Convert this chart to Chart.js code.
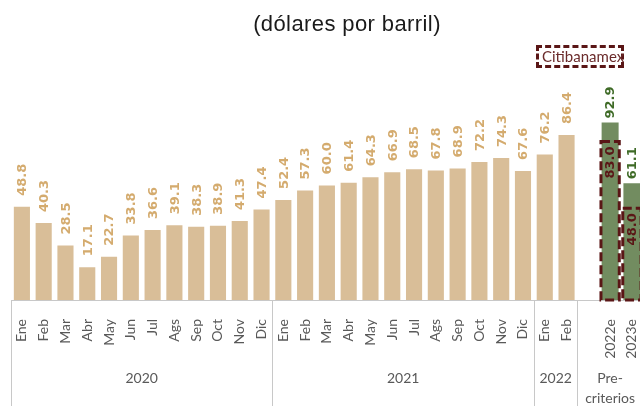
<!DOCTYPE html>
<html>
<head>
<meta charset="utf-8">
<script src="https://cdn.jsdelivr.net/npm/chart.js@4"></script>
<style>
html,body{margin:0;padding:0;background:#fff;overflow:hidden;width:640px;height:406px;}
#wrap{position:relative;width:640px;height:406px;overflow:hidden;}
#c{position:absolute;left:0;top:0;display:block;}
#title{position:absolute;left:0;width:694px;top:13px;line-height:22px;text-align:center;font-family:"Liberation Sans",Arial,sans-serif;font-size:22px;color:#1a1a1a;letter-spacing:0.4px;}
#legbox{position:absolute;left:536px;top:45px;width:88px;height:23px;box-sizing:border-box;border:3px dashed #5a1616;}
#legtxt{position:absolute;left:542px;top:46px;line-height:20px;font-family:Lato,sans-serif;font-size:15px;color:#6b2b2b;white-space:nowrap;}
</style>
</head>
<body>
<div id="wrap">
<canvas id="c" width="660" height="406"></canvas>
<div id="title">(dólares por barril)</div>
<div id="legbox"></div>
<div id="legtxt">Citibanamex</div>
</div>
<script>
// ---- data ----
const months = ['Ene','Feb','Mar','Abr','May','Jun','Jul','Ags','Sep','Oct','Nov','Dic'];
const months2022 = ['Ene','Feb'];
const estimateLabels = ['2022e','2023e'];
const values2020 = [48.8,40.3,28.5,17.1,22.7,33.8,36.6,39.1,38.3,38.9,41.3,47.4];
const values2021 = [52.4,57.3,60.0,61.4,64.3,66.9,68.5,67.8,68.9,72.2,74.3,67.6];
const values2022 = [76.2,86.4];
const preCriterios = [92.9,61.1];
const citibanamex = [83.0,48.0];
const groupNames = ['2020','2021','2022',['Pre-','criterios']];
const groupSizes = [12,12,2,3];

// ---- build table ----
const labels = [...months, ...months, ...months2022, '', ...estimateLabels];
const nObs = values2020.length + values2021.length + values2022.length;
const observed = [...values2020, ...values2021, ...values2022, null, null, null];
const padNulls = new Array(nObs + 1).fill(null);
const estimates = [...padNulls, ...preCriterios];
const citi = [...padNulls, ...citibanamex];

const labelStyles = [
  {color:'#d4ab6e', font:'bold 13px "DejaVu Sans"', offset:11, inside:false},
  {color:'#3f6b27', font:'bold 13px "DejaVu Sans"', offset:4, inside:false},
  {color:'#5a1616', font:'bold 13px "DejaVu Sans"', offset:5, inside:true}
];

const overlay = {
  id:'overlay',
  afterDatasetsDraw(chart){
    const ctx = chart.ctx;
    // dashed outline bars
    const meta = chart.getDatasetMeta(2);
    ctx.save();
    ctx.strokeStyle = '#5a1616';
    ctx.lineWidth = 3;
    ctx.setLineDash([9,4]);
    meta.data.forEach((el,i)=>{
      if (chart.data.datasets[2].data[i] == null) return;
      const p = el.getProps(['x','y','base','width'], true);
      ctx.strokeRect(p.x - p.width/2, p.y, p.width, p.base - p.y);
    });
    ctx.restore();
    // value labels
    chart.data.datasets.forEach((ds, di)=>{
      const st = labelStyles[di];
      const m = chart.getDatasetMeta(di);
      m.data.forEach((el,i)=>{
        const v = ds.data[i];
        if (v == null) return;
        const p = el.getProps(['x','y'], true);
        ctx.save();
        ctx.font = st.font;
        ctx.fillStyle = st.color;
        ctx.textBaseline = 'middle';
        if (st.inside) {
          ctx.translate(p.x + 1, p.y + st.offset);
          ctx.rotate(-Math.PI/2);
          ctx.textAlign = 'right';
        } else {
          ctx.translate(p.x + 1, p.y - st.offset);
          ctx.rotate(-Math.PI/2);
          ctx.textAlign = 'left';
        }
        ctx.fillText(v.toFixed(1), 0, 0);
        ctx.restore();
      });
    });
  },
  afterDraw(chart){
    const ctx = chart.ctx;
    const xs = chart.scales.x;
    const half = (xs.getPixelForValue(1) - xs.getPixelForValue(0)) / 2;
    let idx = 0;
    ctx.save();
    ctx.strokeStyle = '#c8c8c8';
    ctx.lineWidth = 1;
    ctx.fillStyle = '#595959';
    ctx.font = '14px Lato';
    ctx.textAlign = 'center';
    ctx.textBaseline = 'middle';
    groupSizes.forEach((n, g)=>{
      const x0 = xs.getPixelForValue(idx) - half;
      const x1 = xs.getPixelForValue(idx + n - 1) + half;
      ctx.beginPath();
      ctx.moveTo(Math.round(x0) + 0.5, xs.top);
      ctx.lineTo(Math.round(x0) + 0.5, 406);
      ctx.stroke();
      const cx = (x0 + x1) / 2;
      const name = groupNames[g];
      if (Array.isArray(name)) {
        name.forEach((t, k)=> ctx.fillText(t, cx, xs.top + 78 + k*20));
      } else {
        ctx.fillText(name, cx, xs.top + 78);
      }
      idx += n;
    });
    ctx.restore();
  }
};

new Chart(document.getElementById('c'), {
  type:'bar',
  data:{
    labels: labels,
    datasets:[
      {label:'Observado', data: observed, backgroundColor:'#d9be98', barPercentage:0.74, categoryPercentage:1},
      {label:'Pre-criterios', data: estimates, backgroundColor:'#728c60', barPercentage:0.78, categoryPercentage:1},
      {label:'Citibanamex', data: citi, backgroundColor:'rgba(0,0,0,0)', borderWidth:0, barPercentage:0.84, categoryPercentage:1}
    ]
  },
  options:{
    responsive:false,
    devicePixelRatio:1,
    animation:false,
    layout:{padding:{left:11, right:17, top:109, bottom:0}},
    datasets:{bar:{grouped:false}},
    plugins:{legend:{display:false}, tooltip:{enabled:false}, title:{display:false}},
    scales:{
      x:{
        type:'category',
        grid:{display:false},
        border:{display:true, color:'#c8c8c8', width:1},
        ticks:{autoSkip:false, maxRotation:90, minRotation:90, padding:11, color:'#595959', font:{family:'Lato', size:14}},
        afterFit(scale){ scale.height = 106; }
      },
      y:{display:false, min:0, max:100}
    }
  },
  plugins:[overlay]
});
</script>
</body>
</html>
